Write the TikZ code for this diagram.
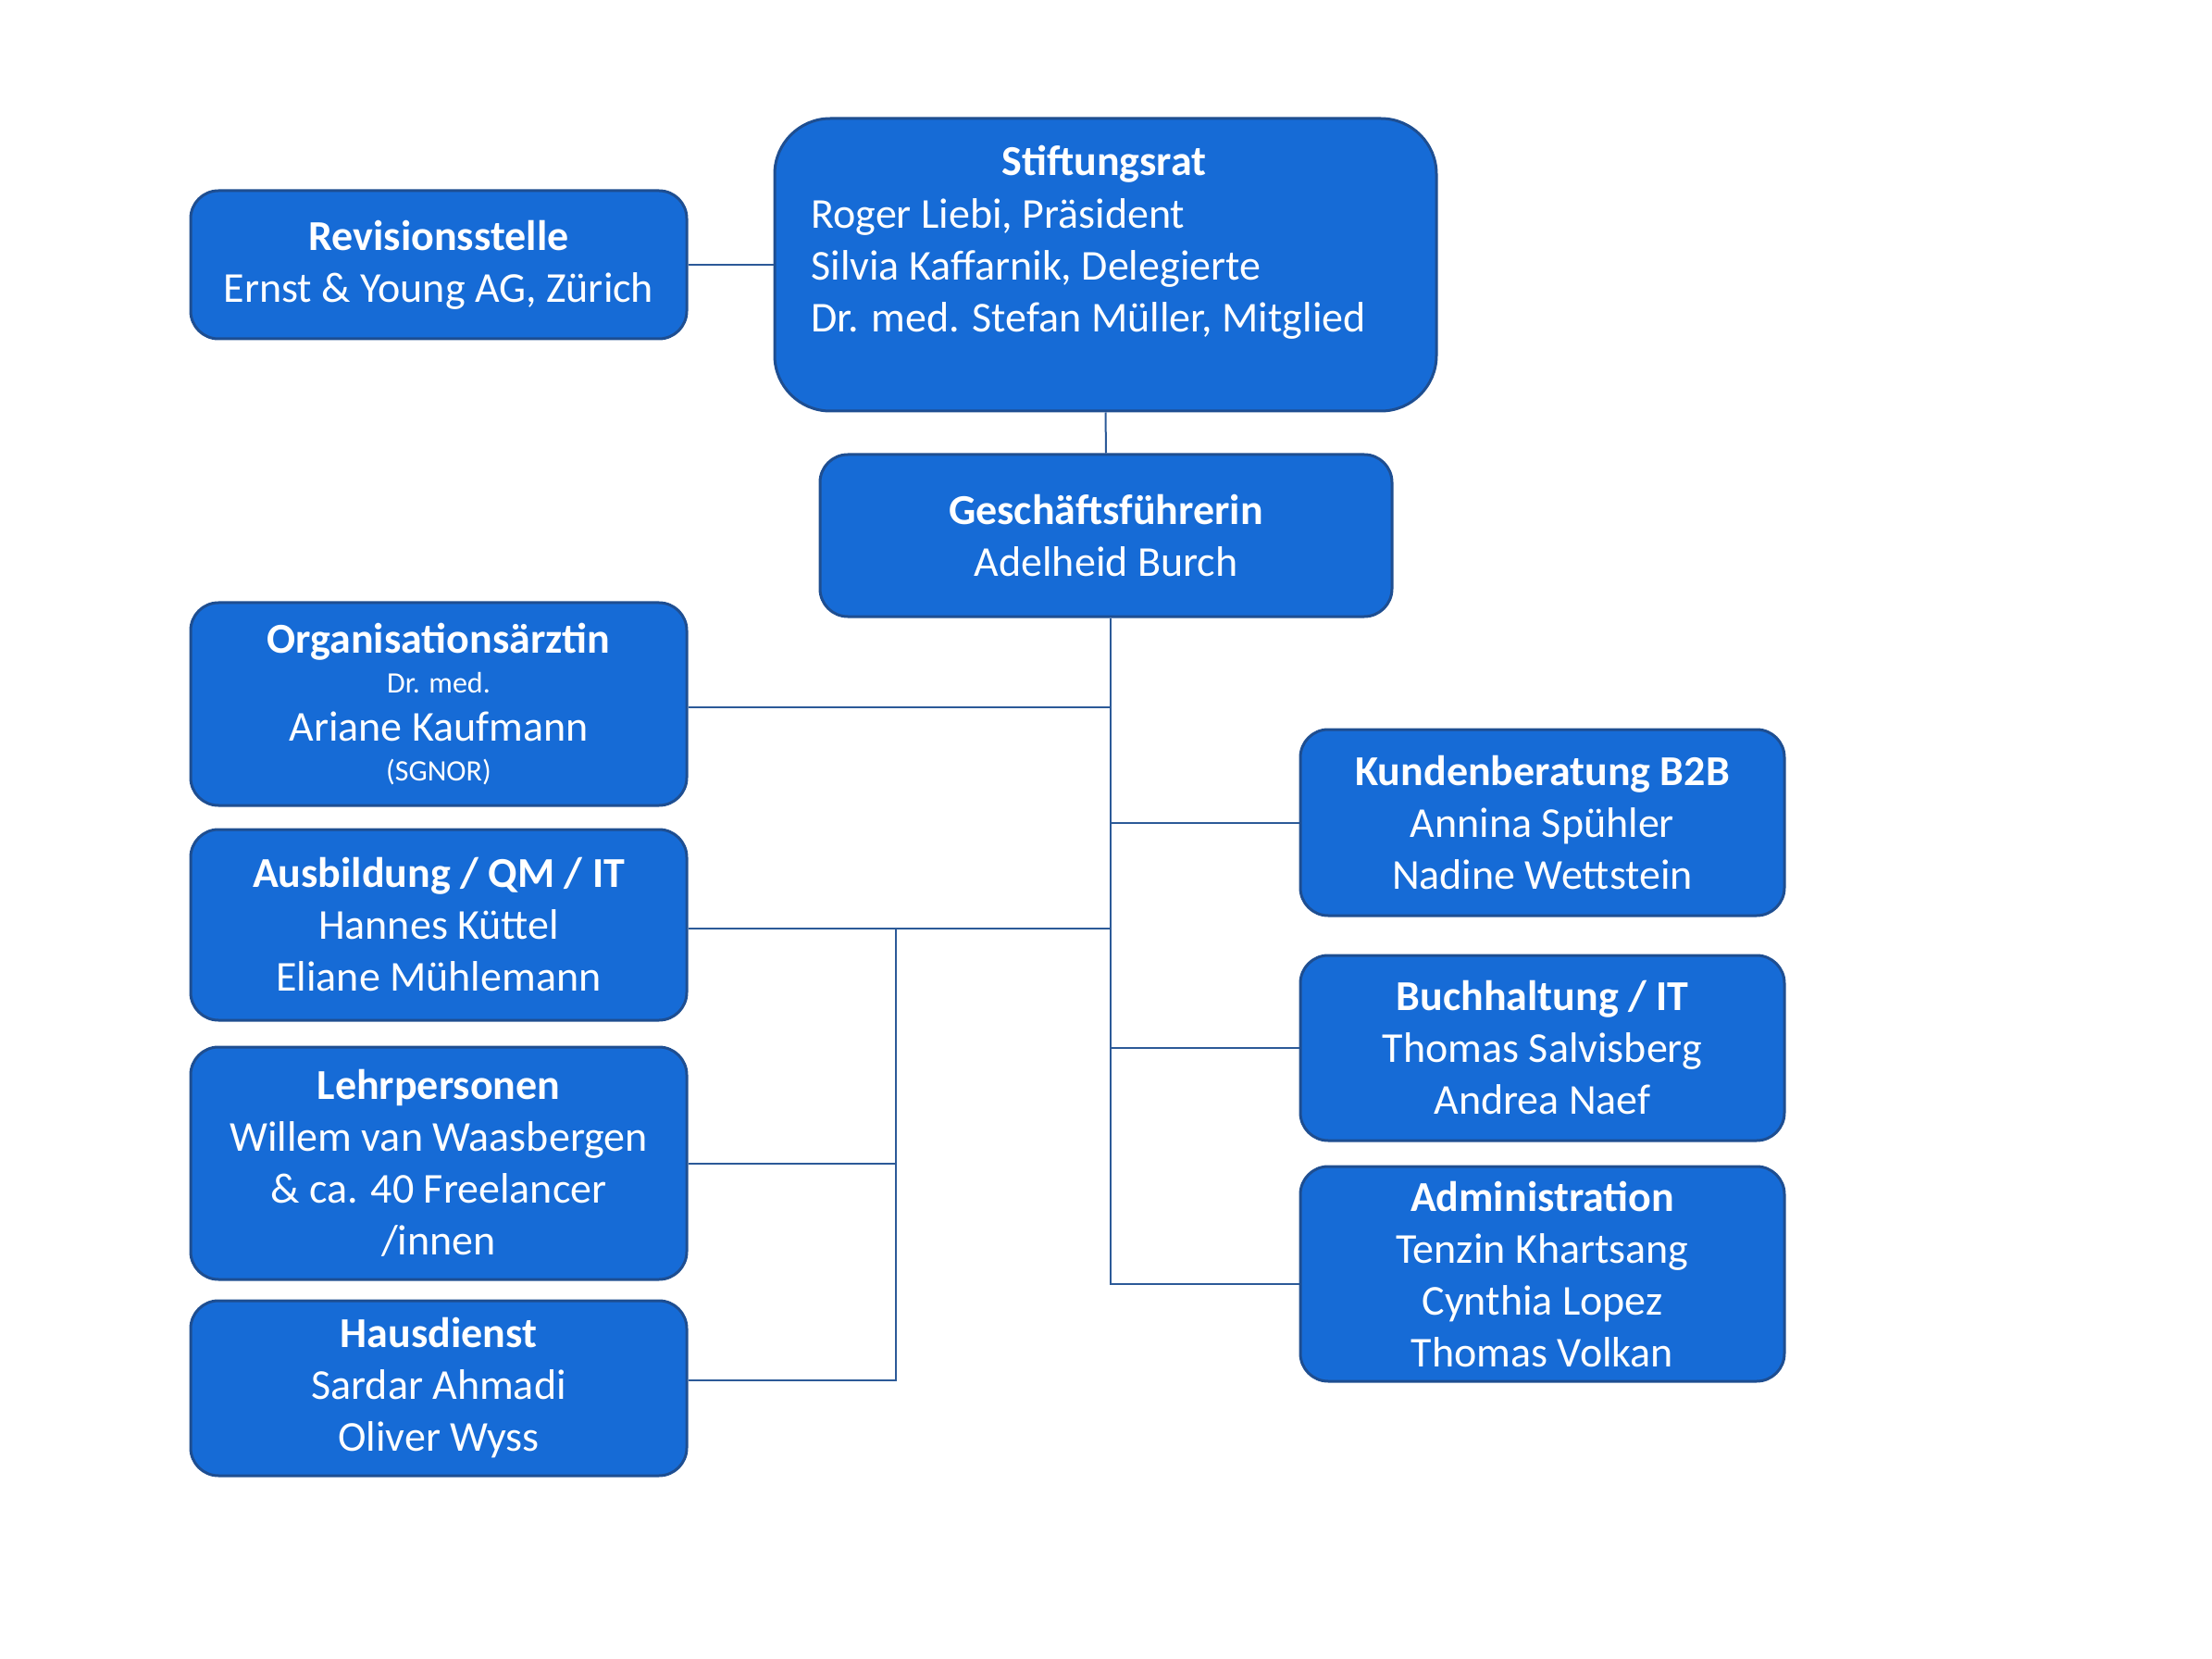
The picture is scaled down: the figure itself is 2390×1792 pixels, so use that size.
\documentclass[tikz,border=0pt]{standalone}
\usepackage{fontspec}
\setmainfont{Carlito}
\definecolor{boxfill}{RGB}{22,107,214}
\definecolor{boxdraw}{RGB}{30,78,145}
\definecolor{linecol}{RGB}{44,90,152}
\begin{document}
\begin{tikzpicture}[x=0.5pt,y=-0.5pt,
  orgbox/.style={draw=boxdraw,line width=1.5pt,fill=boxfill,rounded corners=15pt,
    text=white,align=center,inner sep=0pt,font=\fontsize{23}{28}\selectfont},
  conn/.style={draw=linecol,line width=1pt}]
\useasboundingbox (0,0) rectangle (2390,1792);
% boxes
\node[orgbox,minimum width=268pt,minimum height=80pt] (rev) at (474,286)
  {\textbf{Revisionsstelle}\\Ernst \& Young AG, Zürich};
\node[orgbox,rounded corners=30pt,minimum width=357.5pt,minimum height=158pt] (stift) at (1194.5,286) {};
\node[text=white,font=\fontsize{23}{28}\selectfont\bfseries] (stifttitle) at (1193,177) {Stiftungsrat};
\node[text=white,align=left,anchor=west,inner sep=0pt,font=\fontsize{23}{28}\selectfont] (stiftbody) at (876,290)
  {Roger Liebi, Präsident\\Silvia Kaffarnik, Delegierte\\Dr. med. Stefan Müller, Mitglied};
\node[orgbox,minimum width=309pt,minimum height=87.5pt] (gf) at (1195,578.5)
  {\textbf{Geschäftsführerin}\\Adelheid Burch};
\node[orgbox,minimum width=268pt,minimum height=109.5pt] (org) at (474,760.5)
  {\textbf{Organisationsärztin}\\[-6.5pt]{\fontsize{16}{19}\selectfont Dr. med.}\\[-2pt]Ariane Kaufmann\\[-6.5pt]{\fontsize{16}{19}\selectfont (SGNOR)}};
\node[orgbox,minimum width=268pt,minimum height=103pt] (ausb) at (474,999)
  {\textbf{Ausbildung / QM / IT}\\Hannes Küttel\\Eliane Mühlemann};
\node[orgbox,minimum width=268pt,minimum height=125.5pt] (lehr) at (474,1256.5)
  {\textbf{Lehrpersonen}\\Willem van Waasbergen\\\& ca. 40 Freelancer\\/innen};
\node[orgbox,minimum width=268pt,minimum height=94.5pt] (haus) at (474,1499.5)
  {\textbf{Hausdienst}\\Sardar Ahmadi\\Oliver Wyss};
\node[orgbox,minimum width=261.5pt,minimum height=100.5pt] (kund) at (1666.5,888.5)
  {\textbf{Kundenberatung B2B}\\Annina Spühler\\Nadine Wettstein};
\node[orgbox,minimum width=261.5pt,minimum height=100pt] (buch) at (1666.5,1132)
  {\textbf{Buchhaltung / IT}\\Thomas Salvisberg\\Andrea Naef};
\node[orgbox,minimum width=261.5pt,minimum height=116pt] (adm) at (1666.5,1376)
  {\textbf{Administration}\\Tenzin Khartsang\\Cynthia Lopez\\Thomas Volkan};
% connectors
\coordinate (trunk) at (1200,0);
\coordinate (sub) at (968,0);
\coordinate (orgy) at (0,764);
\coordinate (ausby) at (0,1003);
\coordinate (admy) at (0,1387);
\coordinate (hausy) at (0,1491);
\draw[conn] (rev.east) -- (rev.east -| stift.west);
\draw[conn] (stift.south) -- (gf.north);
\draw[conn] (gf.south -| trunk) -- (trunk |- admy) -- (adm.west |- admy);
\draw[conn] (org.east |- orgy) -- (trunk |- orgy);
\draw[conn] (ausb.east |- ausby) -- (trunk |- ausby);
\draw[conn] (kund.west) -- (kund.west -| trunk);
\draw[conn] (buch.west) -- (buch.west -| trunk);
\draw[conn] (sub |- ausby) -- (sub |- hausy) -- (haus.east |- hausy);
\draw[conn] (lehr.east) -- (lehr.east -| sub);
\end{tikzpicture}
\end{document}
